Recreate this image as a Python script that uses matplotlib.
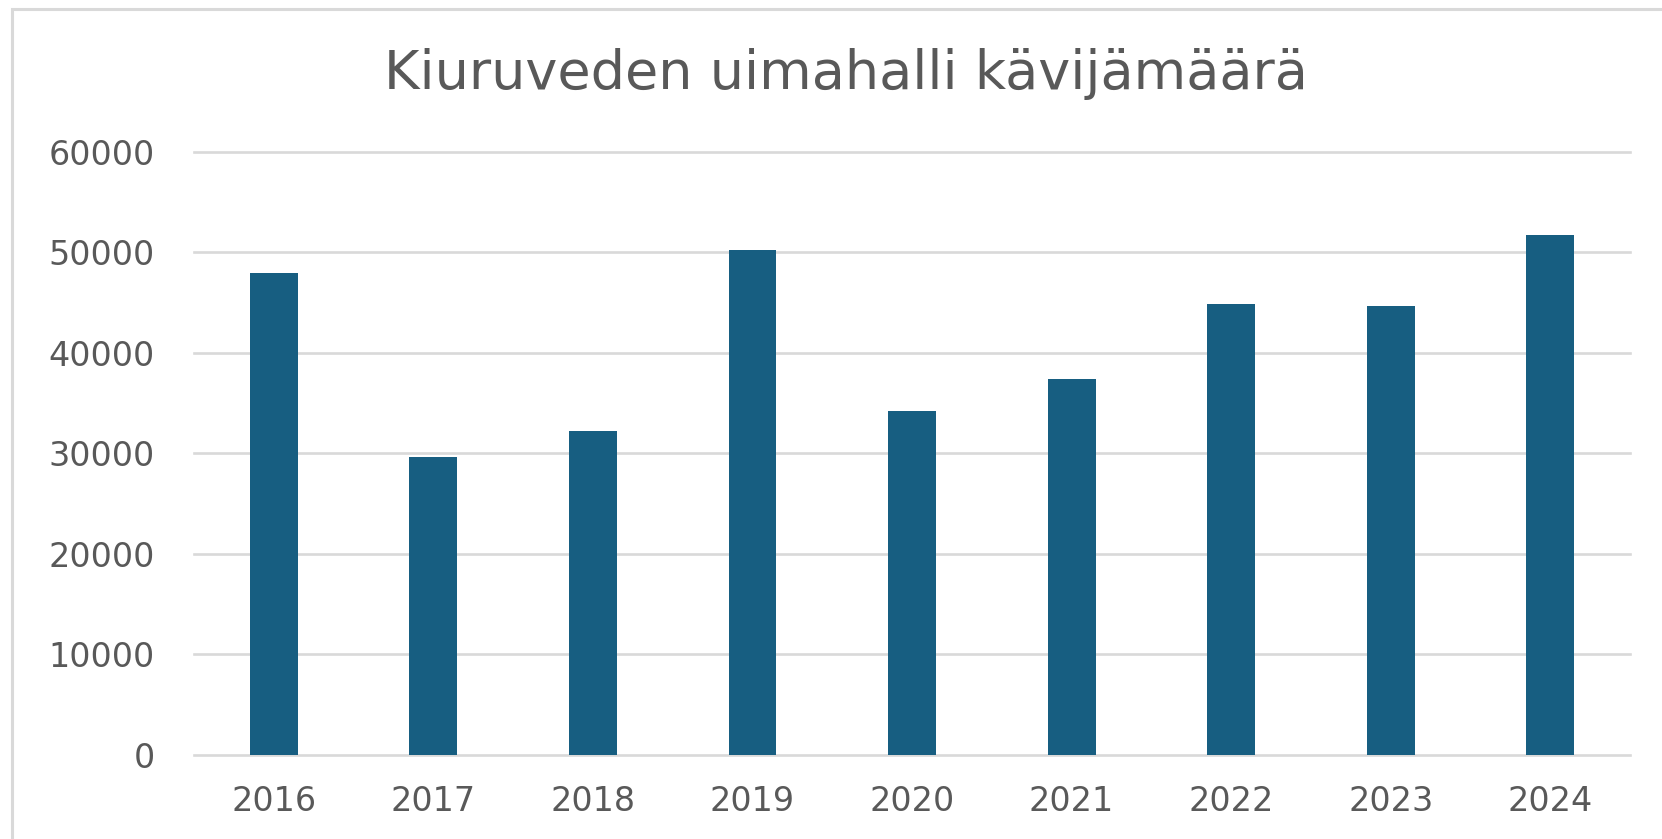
import matplotlib
matplotlib.use("Agg")
import matplotlib.pyplot as plt
from matplotlib.patches import Rectangle

# data
years = ["2016", "2017", "2018", "2019", "2020", "2021", "2022", "2023", "2024"]
visitors = [47900, 29600, 32200, 50200, 34200, 37400, 44800, 44600, 51700]
y_ticks = [0, 10000, 20000, 30000, 40000, 50000, 60000]

title = "Kiuruveden uimahalli kävijämäärä"

BAR_COLOR = "#175E81"
GRID_COLOR = "#D9D9D9"
TEXT_COLOR = "#595959"

plt.rcParams["font.family"] = ["DejaVu Sans"]

fig = plt.figure(figsize=(16.62, 8.39), dpi=100)
fig.patch.set_facecolor("white")

# chart frame, cut off at right and bottom like the screenshot
fig.patches.append(Rectangle((11.6 / 1662, -0.1), 1.2, 1.1 - 9.5 / 839,
                             transform=fig.transFigure, fill=False,
                             edgecolor=GRID_COLOR, linewidth=2.2))

ax = fig.add_axes([0.1167, 0.1005, 0.9808 - 0.1167, 0.8193 - 0.1005])
x = range(len(years))
ax.bar(x, visitors, width=0.3, color=BAR_COLOR, zorder=3)

ax.set_xlim(-0.5, len(years) - 0.5)
ax.set_ylim(0, 60000)
ax.set_yticks(y_ticks)
ax.set_yticklabels([str(v) for v in y_ticks])
ax.set_xticks(list(x))
ax.set_xticklabels(years)

ax.yaxis.grid(True, color=GRID_COLOR, linewidth=1.9, zorder=0)
for gl in ax.get_ygridlines():
    gl.set_clip_on(False)
ax.xaxis.grid(False)
for s in ax.spines.values():
    s.set_visible(False)
ax.tick_params(axis="both", length=0, labelsize=24, labelcolor=TEXT_COLOR)
ax.tick_params(axis="y", pad=28)
ax.tick_params(axis="x", pad=22)

fig.text(0.509, 1 - 89 / 839, title, ha="center", va="baseline",
         fontsize=39, color=TEXT_COLOR)

fig.savefig("out.png", dpi=100, facecolor="white")
